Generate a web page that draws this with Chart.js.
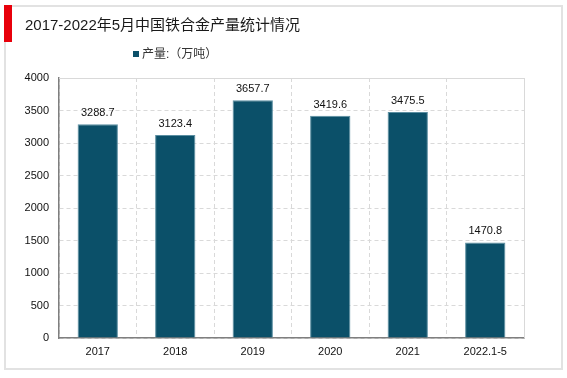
<!DOCTYPE html>
<html><head><meta charset="utf-8">
<script src="https://cdn.jsdelivr.net/npm/chart.js@4"></script>
<style>html,body{margin:0;padding:0;background:#fff}</style>
</head><body>
<canvas id="c" width="567" height="378"></canvas>
<script>
const categories = ['2017', '2018', '2019', '2020', '2021', '2022.1-5'];
const production = [3288.7, 3123.4, 3657.7, 3419.6, 3475.5, 1470.8];
const titleText = '2017-2022年5月中国铁合金产量统计情况';
const seriesLabel = '产量:（万吨）';
const yTicks = [0, 500, 1000, 1500, 2000, 2500, 3000, 3500, 4000];

const FONT = '"Liberation Sans", Arial, "Noto Sans CJK SC", sans-serif';
const BAR = '#0b5069';

const deco = {
  id: 'deco',
  beforeDraw(chart) {
    const ctx = chart.ctx;
    ctx.save();
    ctx.fillStyle = '#fff';
    ctx.fillRect(0, 0, chart.width, chart.height);
    ctx.strokeStyle = '#e2e2e2';
    ctx.lineWidth = 2;
    ctx.strokeRect(5, 6, 557, 363);
    ctx.fillStyle = '#e8000b';
    ctx.fillRect(4, 5, 8, 37);
    ctx.fillStyle = '#1a1a1a';
    ctx.font = '15px ' + FONT;
    ctx.textBaseline = 'middle';
    ctx.textAlign = 'left';
    ctx.fillText(titleText, 25, 26);
    ctx.fillStyle = BAR;
    ctx.fillRect(133, 51, 6, 6);
    ctx.fillStyle = '#333';
    ctx.font = '12px ' + FONT;
    ctx.fillText(seriesLabel, 142, 54.5);
    ctx.restore();
  },
  afterDraw(chart) {
    const ctx = chart.ctx;
    const a = chart.chartArea;
    ctx.save();
    ctx.strokeStyle = '#d9d9d9';
    ctx.lineWidth = 1;
    ctx.beginPath();
    ctx.moveTo(a.left, a.top + 0.5);
    ctx.lineTo(a.right + 0.5, a.top + 0.5);
    ctx.lineTo(a.right + 0.5, a.bottom);
    ctx.stroke();
    const meta = chart.getDatasetMeta(0);
    ctx.fillStyle = '#111';
    ctx.font = '11px ' + FONT;
    ctx.textAlign = 'center';
    ctx.textBaseline = 'middle';
    meta.data.forEach((bar, i) => {
      ctx.fillText(production[i].toFixed(1), bar.x, bar.y - 11);
    });
    ctx.restore();
  }
};

new Chart(document.getElementById('c'), {
  type: 'bar',
  data: {
    labels: categories,
    datasets: [{
      label: seriesLabel,
      data: production,
      backgroundColor: BAR,
      borderColor: '#5a8ea1',
      borderWidth: 1,
      categoryPercentage: 1,
      barPercentage: 0.52
    }]
  },
  options: {
    responsive: false,
    animation: false,
    devicePixelRatio: 1,
    layout: { padding: { left: 19, right: 43, top: 78, bottom: 15 } },
    plugins: { legend: { display: false }, title: { display: false }, tooltip: { enabled: false } },
    scales: {
      x: {
        grid: { color: '#d9d9d9', drawTicks: false, offset: true },
        border: { color: '#7f7f7f', width: 1.5, dash: [4, 3] },
        ticks: { color: '#111', font: { size: 11, family: FONT }, padding: 7, maxRotation: 0 },
        afterFit(s) { s.height = 25; }
      },
      y: {
        min: 0, max: 4000,
        afterBuildTicks(s) { s.ticks = yTicks.map(v => ({ value: v })); },
        grid: { color: '#d9d9d9', drawTicks: false },
        border: { color: '#7f7f7f', width: 1.5, dash: [4, 3] },
        ticks: { color: '#111', font: { size: 11, family: FONT }, padding: 10, callback: v => String(v) },
        afterFit(s) { s.width = 40; }
      }
    }
  },
  plugins: [deco]
});
</script>
</body></html>
